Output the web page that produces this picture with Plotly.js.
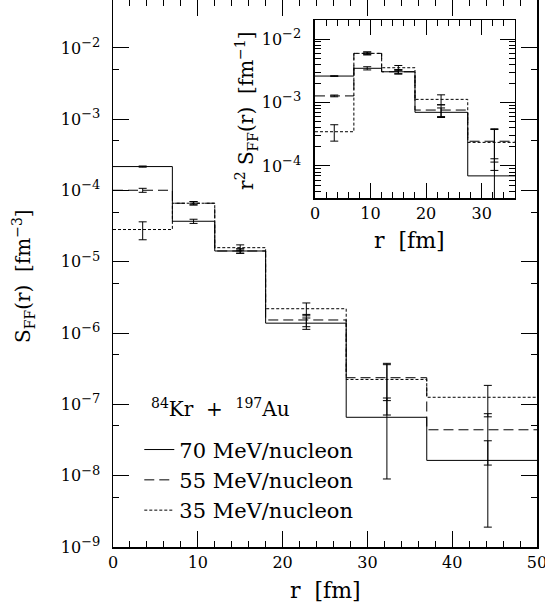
<!DOCTYPE html>
<html><head><meta charset="utf-8">
<script src="https://cdn.plot.ly/plotly-3.0.1.min.js"></script>
<style>html,body{margin:0;padding:0;background:#fff}#chart{width:545px;height:609px}</style>
</head><body><div id="chart"></div>
<script>
// ---- main panel data: S_FF(r) [fm^-3]
const binEdges = [0, 7, 12, 18, 27.5, 37, 50];
const rMean = [3.5, 9.5, 15.0, 22.8, 32.3, 44.2];
const seriesNames = ['70 MeV/nucleon', '55 MeV/nucleon', '35 MeV/nucleon'];
const S70 = [2.17e-4, 3.71e-5, 1.42e-5, 1.38e-6, 6.6e-8, 1.64e-8];
const S70err = [4e-6, 2.5e-6, 1.0e-6, 2.5e-7, 5.7e-8, 1.45e-8];
const S55 = [1.01e-4, 6.64e-5, 1.42e-5, 1.53e-6, 2.37e-7, 4.41e-8];
const S55err = [6.5e-6, 3.5e-6, 1.0e-6, 3.0e-7, 1.24e-7, 3.0e-8];
const S35 = [2.84e-5, 6.64e-5, 1.58e-5, 2.2e-6, 2.24e-7, 1.26e-7];
const S35err = [8e-6, 3.5e-6, 1.5e-6, 4.5e-7, 1.53e-7, 5.9e-8];

// ---- inset data: r^2 S_FF(r) [fm^-1]
const insetEdges = [0, 7, 12, 18, 27.5, 37];
const rMeanInset = [3.47, 9.4, 15.0, 22.7, 32.3];
const R70 = [2.61e-3, 3.46e-3, 3.05e-3, 7.0e-4, 6.97e-5];
const R70err = [3e-5, 2e-4, 2e-4, 1.2e-4, 6e-5];
const R55 = [1.27e-3, 5.95e-3, 3.05e-3, 7.6e-4, 2.45e-4];
const R55err = [4e-5, 3e-4, 2.5e-4, 1.6e-4, 1.3e-4];
const R35 = [3.46e-4, 5.95e-3, 3.53e-3, 1.12e-3, 2.35e-4];
const R35err = [1.0e-4, 3e-4, 3e-4, 2e-4, 1.5e-4];

// ---- tick labels
const supS = e => '10<sup><span style="font-size:13px">' + e + '</span></sup>';
const mainXTicks = [0, 10, 20, 30, 40, 50];
const mainYTickVals = [1e-9, 1e-8, 1e-7, 1e-6, 1e-5, 1e-4, 1e-3, 1e-2];
const mainYExp = ['−9', '−8', '−7', '−6', '−5', '−4', '−3', '−2'];
const mainYTickText = mainYExp.map(supS);
const mainYMinor = [5e-9, 5e-8, 5e-7, 5e-6, 5e-5, 5e-4, 5e-3, 5e-2];
const insetXTicks = [0, 10, 20, 30];
const insetYTickVals = [1e-4, 1e-3, 1e-2];
const insetYExp = ['−4', '−3', '−2'];
const insetYTickText = insetYExp.map(supS);
const insetYMinor = [];
[1e-5, 1e-4, 1e-3, 1e-2].forEach(d => { for (let k = 2; k <= 9; k++) insetYMinor.push(k * d); });

const FONT = 'DejaVu Serif';
const dashes = ['solid', '10px,5px', '3px,2px'];
const stepY = v => v.concat([v[v.length - 1]]);

const traces = [];
const mainSets = [[S70, S70err], [S55, S55err], [S35, S35err]];
mainSets.forEach((s, i) => {
  traces.push({x: binEdges, y: stepY(s[0]), mode: 'lines', line: {shape: 'hv', color: '#000', width: 1, dash: dashes[i]},
    name: seriesNames[i], legendgroup: 'g' + i, xaxis: 'x', yaxis: 'y', hoverinfo: 'skip'});
  traces.push({x: rMean, y: s[0], mode: 'markers', marker: {size: 1, color: 'rgba(0,0,0,0)'},
    error_y: {type: 'data', array: s[1], color: '#000', thickness: 1, width: 4}, showlegend: false, xaxis: 'x', yaxis: 'y', hoverinfo: 'skip'});
});
const insetSets = [[R70, R70err], [R55, R55err], [R35, R35err]];
insetSets.forEach((s, i) => {
  traces.push({x: insetEdges, y: stepY(s[0]), mode: 'lines', line: {shape: 'hv', color: '#000', width: 1, dash: dashes[i]},
    showlegend: false, xaxis: 'x2', yaxis: 'y2', hoverinfo: 'skip'});
  traces.push({x: rMeanInset, y: s[0], mode: 'markers', marker: {size: 1, color: 'rgba(0,0,0,0)'},
    error_y: {type: 'data', array: s[1], color: '#000', thickness: 1, width: 4}, showlegend: false, xaxis: 'x2', yaxis: 'y2', hoverinfo: 'skip'});
});

const axCommon = {showgrid: false, zeroline: false, showline: true, linecolor: '#000', linewidth: 1.5, mirror: 'ticks',
  ticks: 'inside', tickcolor: '#000', tickwidth: 1, ticklabeloverflow: 'allow', tickfont: {family: FONT, size: 16, color: '#000'}};

const ann = (x, y, text, size, angle) => ({xref: 'paper', yref: 'paper', x: x, y: y, xanchor: 'center', yanchor: 'middle',
  text: text, textangle: angle || 0, showarrow: false, font: {family: FONT, size: size, color: '#000'}});

const layout = {
  width: 545, height: 609, margin: {l: 113, r: 8, t: 0, b: 62},
  paper_bgcolor: '#fff', plot_bgcolor: 'rgba(0,0,0,0)',
  font: {family: FONT, color: '#000'},
  showlegend: true,
  legend: {x: 0.062, y: 0.215, xanchor: 'left', yanchor: 'top', bgcolor: 'rgba(0,0,0,0)', font: {family: FONT, size: 21, color: '#000'}, tracegroupgap: 0, traceorder: 'grouped'},
  xaxis: Object.assign({}, axCommon, {domain: [0, 1], anchor: 'y', range: [0, 50], tickmode: 'array', tickvals: mainXTicks, ticklen: 16,
    minor: {dtick: 2, ticklen: 6, ticks: 'inside', tickcolor: '#000', tickwidth: 1}}),
  yaxis: Object.assign({}, axCommon, {domain: [0, 1], anchor: 'x', type: 'log', range: [-9, -1.327], tickmode: 'array', tickvals: mainYTickVals, ticktext: mainYTickText, ticklen: 16,
    ticklabelstandoff: 8, minor: {tickvals: mainYMinor, ticklen: 6, ticks: 'inside', tickcolor: '#000', tickwidth: 1}}),
  xaxis2: Object.assign({}, axCommon, {domain: [0.4764, 0.948], anchor: 'y2', range: [0, 36], tickmode: 'array', tickvals: insetXTicks, ticklen: 15,
    minor: {dtick: 2, ticklen: 6, ticks: 'inside', tickcolor: '#000', tickwidth: 1}}),
  yaxis2: Object.assign({}, axCommon, {domain: [0.6375, 0.9634], anchor: 'x2', type: 'log', range: [-4.51, -1.70], tickmode: 'array', tickvals: insetYTickVals, ticktext: insetYTickText, ticklen: 15,
    ticklabelstandoff: 9, minor: {tickvals: insetYMinor, ticklen: 6, ticks: 'inside', tickcolor: '#000', tickwidth: 1}}),
  annotations: [
    ann(0.5, -0.0795, 'r&nbsp;&nbsp;[fm]', 22),
    ann(-0.2123, 0.4954, 'S<sub>FF</sub>(r)&nbsp;&nbsp;[fm<sup>−3</sup>]', 20, -90),
    ann(0.70, 0.5595, 'r&nbsp;&nbsp;[fm]', 22),
    ann(0.316, 0.799, 'r<sup>2</sup> S<sub>FF</sub>(r)&nbsp;&nbsp;[fm<sup>−1</sup>]', 20, -90),
    ann(0.254, 0.255, '<sup>84</sup>Kr&nbsp;&nbsp;+&nbsp;&nbsp;<sup>197</sup>Au', 20)
  ]
};

Plotly.newPlot('chart', traces, layout, {staticPlot: true, displayModeBar: false});
</script></body></html>
